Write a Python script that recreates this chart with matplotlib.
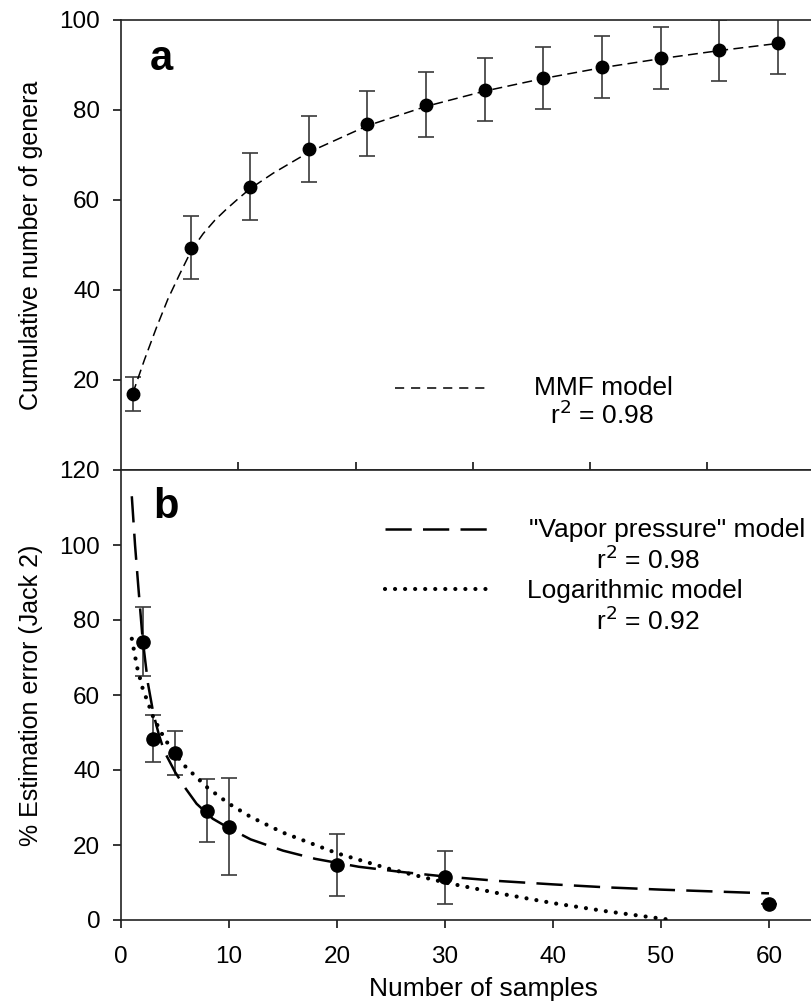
import matplotlib
matplotlib.use("Agg")
import matplotlib.pyplot as plt

plt.rcParams['font.family'] = ['Liberation Sans', 'DejaVu Sans']

# panel a: cumulative genera
a_x = [1, 6, 11, 16, 21, 26, 31, 36, 41, 46, 51, 56]
a_y = [16.9, 49.4, 63.0, 71.3, 77.0, 81.2, 84.5, 87.2, 89.6, 91.5, 93.3, 94.9]
a_err = [3.8, 7.0, 7.4, 7.4, 7.3, 7.2, 7.0, 6.9, 6.9, 6.9, 6.8, 6.8]

# MMF curve
mmf_x = [1, 2, 3, 4, 5, 6, 7, 8, 9, 10, 11, 13, 16, 21, 26, 31, 36, 41, 46, 51, 56]
mmf_y = [17, 24.5, 31.5, 38, 43.5, 48.8, 52.5, 55.5, 58, 60.3, 62.5, 66, 70.6,
         76.5, 80.8, 84.2, 87, 89.4, 91.4, 93.2, 94.8]

# panel b: estimation error
b_x = [2, 3, 5, 8, 10, 20, 30, 60]
b_y = [74.2, 48.4, 44.5, 29.2, 24.9, 14.7, 11.4, 4.2]
b_err = [9.2, 6.3, 5.9, 8.5, 13.0, 8.2, 7.1, 0]

vp_x = [1.0, 1.3, 1.6, 2.0, 2.5, 3.0, 3.5, 4.0, 5.0, 6.0, 7.0, 8.5, 10, 12, 15,
        18, 22, 26, 30, 35, 40, 45, 50, 55, 60]
vp_y = [113, 100, 89, 75, 63, 55, 49.5, 45, 39.5, 35, 31, 27, 24.5, 21.5, 18.5,
        16.3, 14.2, 12.8, 11.6, 10.4, 9.5, 8.7, 8.1, 7.6, 7.1]

log_x = [1, 1.5, 2, 3, 4, 5, 6, 8, 10, 12, 15, 20, 25, 30, 35, 40, 45, 51]
log_y = [75, 67.3, 61.8, 54, 48.5, 44.3, 40.8, 35.3, 31, 27.5, 23.3, 17.8, 13.5,
         10, 7.1, 4.5, 2.3, 0]

fig = plt.figure(figsize=(8.12, 10.02), dpi=100)
W, H = 812.0, 1002.0
left = 121 / W
ax1 = fig.add_axes([left, 1 - 470 / H, 1 - left, 450 / H])
ax2 = fig.add_axes([left, 1 - 920 / H, 1 - left, 450 / H])

ecol = '#3a3a3a'
dotted = (0, (0.01, 2.4))
for ax in (ax1, ax2):
    ax.spines['right'].set_visible(False)
    for s in ('left', 'top', 'bottom'):
        ax.spines[s].set_linewidth(1.2)
        ax.spines[s].set_color('#222222')

# ---- panel a
ax1.errorbar(a_x, a_y, yerr=a_err, fmt='none', ecolor=ecol, elinewidth=1.2,
             capsize=6, capthick=1.2, zorder=2)
ax1.plot(mmf_x, mmf_y, color='black', lw=1.1, dashes=(6.5, 3.5), zorder=3)
ax1.plot(a_x, a_y, 'o', color='black', ms=9, zorder=4)
ax1.set_xlim(0, 691 / 11.73)
ax1.set_ylim(0, 100)
ax1.set_yticks([20, 40, 60, 80, 100])
ax1.set_xticks([10, 20, 30, 40, 50])
ax1.tick_params(axis='x', direction='in', length=6, width=1.1, labelbottom=False)
ax1.tick_params(axis='y', direction='out', length=6, width=1.1, pad=9, labelsize=17.5)
ax1.set_ylabel('Cumulative number of genera', fontsize=18, labelpad=12)
ax1.text(0.042, 0.889, 'a', transform=ax1.transAxes, fontsize=30,
         fontweight='bold', va='baseline', ha='left')
ax1.plot([0.3965, 0.530], [0.182, 0.182], transform=ax1.transAxes,
         color='black', lw=1.1, dashes=(6, 4.5))
ax1.text(0.6975, 0.1667, 'MMF model', transform=ax1.transAxes, fontsize=19,
         ha='center', va='baseline')
ax1.text(0.696, 0.102, r'r$^2$ = 0.98', transform=ax1.transAxes, fontsize=19,
         ha='center', va='baseline')

# ---- panel b
ax2.errorbar(b_x, b_y, yerr=b_err, fmt='none', ecolor=ecol, elinewidth=1.2,
             capsize=6, capthick=1.2, zorder=2)
ax2.plot(vp_x, vp_y, color='black', lw=1.8, dashes=(10.5, 4.5), zorder=3)
ax2.plot(log_x, log_y, color='black', lw=3.0, linestyle=dotted,
         dash_capstyle='round', zorder=3)
ax2.plot(b_x, b_y, 'o', color='black', ms=9.5, zorder=4)
ax2.set_xlim(0, 691 / 10.8)
ax2.set_ylim(0, 120)
ax2.set_yticks([0, 20, 40, 60, 80, 100, 120])
ax2.set_xticks([0, 10, 20, 30, 40, 50, 60])
ax2.tick_params(axis='x', direction='out', length=6, width=1.1, pad=13, labelsize=17.5)
ax2.tick_params(axis='y', direction='out', length=6, width=1.1, pad=9, labelsize=17.5)
ax2.set_ylabel('% Estimation error (Jack 2)', fontsize=18, labelpad=12)
ax2.set_xlabel('Number of samples', fontsize=19)
ax2.xaxis.set_label_coords((483.5 - 121) / 691, -0.126)
ax2.text(0.046, 0.893, 'b', transform=ax2.transAxes, fontsize=30,
         fontweight='bold', va='baseline', ha='left')
ax2.plot([0.382, 0.530], [0.870, 0.870], transform=ax2.transAxes,
         color='black', lw=1.8, dashes=(10.5, 4.5))
ax2.plot([0.382, 0.534], [0.735, 0.735], transform=ax2.transAxes,
         color='black', lw=3.0, linestyle=dotted, dash_capstyle='round')
ax2.text(0.790, 0.852, '"Vapor pressure" model', transform=ax2.transAxes,
         fontsize=19, ha='center', va='baseline')
ax2.text(0.763, 0.781, r'r$^2$ = 0.98', transform=ax2.transAxes, fontsize=19,
         ha='center', va='baseline')
ax2.text(0.743, 0.715, 'Logarithmic model', transform=ax2.transAxes,
         fontsize=19, ha='center', va='baseline')
ax2.text(0.763, 0.644, r'r$^2$ = 0.92', transform=ax2.transAxes, fontsize=19,
         ha='center', va='baseline')

fig.savefig('out.png', dpi=100)
